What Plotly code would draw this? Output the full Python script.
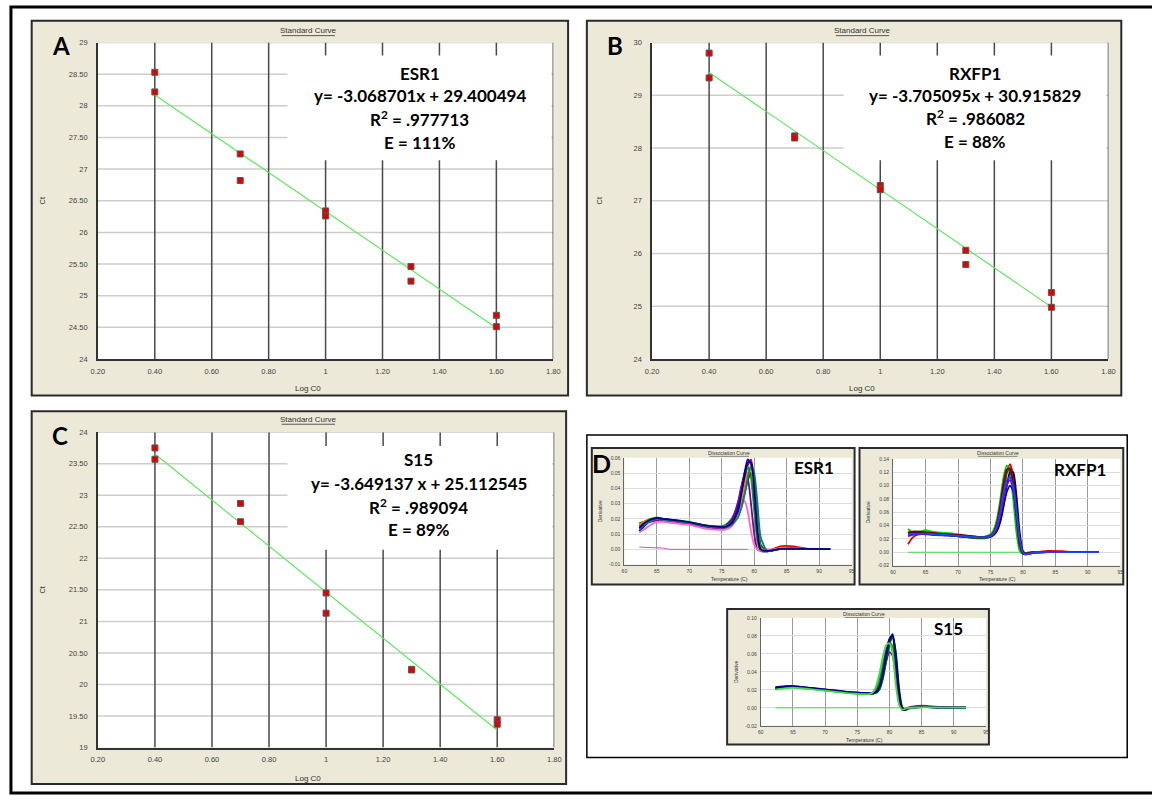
import plotly.graph_objects as go

W, H = 1152, 800

# ===================== DATA =====================
# ---- Standard curves (panels A-C) ----
log_c0 = [0.40, 0.40, 0.70, 0.70, 1.00, 1.00, 1.30, 1.30, 1.60, 1.60]
esr1_ct = [28.53, 28.22, 27.24, 26.82, 26.34, 26.26, 25.46, 25.23, 24.69, 24.51]
rxfp1_ct = [29.80, 29.33, 28.23, 28.19, 27.29, 27.21, 26.06, 25.79, 25.26, 24.98]
s15_ct = [23.75, 23.57, 22.87, 22.58, 21.45, 21.13, 20.24, 20.23, 19.44, 19.37]

fit_range = [0.40, 1.60]
slopes = [-3.068701, -3.705095, -3.649137]
intercepts = [29.400494, 30.915829, 25.112545]

gene_names = ["ESR1", "RXFP1", "S15"]
equation_text = ["y= -3.068701x + 29.400494",
                 "y= -3.705095x + 30.915829",
                 "y= -3.649137 x + 25.112545"]
r2_text = [".977713", ".986082", ".989094"]
eff_text = ["111%", "88%", "89%"]
panel_letters = ["A", "B", "C"]

logc0_ticks = [0.2, 0.4, 0.6, 0.8, 1.0, 1.2, 1.4, 1.6, 1.8]
logc0_ticktext = ["0.20", "0.40", "0.60", "0.80", "1", "1.20", "1.40", "1.60", "1.80"]
esr1_ct_ticks = [24, 24.5, 25, 25.5, 26, 26.5, 27, 27.5, 28, 28.5, 29]
esr1_ct_ticktext = ["24", "24.50", "25", "25.50", "26", "26.50", "27", "27.50", "28", "28.50", "29"]
rxfp1_ct_ticks = [24, 25, 26, 27, 28, 29, 30]
rxfp1_ct_ticktext = ["24", "25", "26", "27", "28", "29", "30"]
s15_ct_ticks = [19, 19.5, 20, 20.5, 21, 21.5, 22, 22.5, 23, 23.5, 24]
s15_ct_ticktext = ["19", "19.50", "20", "20.50", "21", "21.50", "22", "22.50", "23", "23.50", "24"]

# ---- Dissociation curves (panel D) ----
temp_ticks = [60, 65, 70, 75, 80, 85, 90, 95]
temp_ticktext = ["60", "65", "70", "75", "80", "85", "90", "95"]

esr1_temp = [62.3, 63, 64, 65, 66, 68, 70, 72, 74, 75.5, 76.5, 77.5, 78, 78.5, 79, 79.5,
             80, 80.5, 81, 82, 84, 86, 88, 91.7]
esr1_curves = [
    [0.014, 0.016, 0.019, 0.020, 0.0195, 0.018, 0.017, 0.0155, 0.0145, 0.015, 0.018, 0.026, 0.034, 0.045, 0.055, 0.059, 0.045, 0.018, 0.002, -0.001, 0.002, 0.002, 0.0005, 0.0003],
    [0.016, 0.018, 0.020, 0.021, 0.020, 0.019, 0.018, 0.016, 0.015, 0.016, 0.020, 0.030, 0.040, 0.050, 0.054, 0.047, 0.025, 0.005, -0.001, -0.001, 0.0003, 0.0005, 0.0003, 0.0002],
    [0.012, 0.015, 0.019, 0.0205, 0.020, 0.019, 0.0175, 0.016, 0.0145, 0.015, 0.019, 0.028, 0.038, 0.050, 0.059, 0.056, 0.035, 0.010, -0.001, -0.0015, 0.0003, 0.0005, 0.0003, 0.0002],
    [0.017, 0.018, 0.019, 0.019, 0.0185, 0.018, 0.017, 0.015, 0.014, 0.014, 0.016, 0.022, 0.028, 0.036, 0.045, 0.050, 0.042, 0.020, 0.003, -0.001, 0.0003, 0.0004, 0.0003, 0.0002],
    [0.015, 0.017, 0.018, 0.019, 0.0185, 0.0175, 0.0165, 0.015, 0.014, 0.0145, 0.019, 0.031, 0.041, 0.048, 0.046, 0.030, 0.010, 0.000, -0.001, -0.001, 0.0002, 0.0004, 0.0003, 0.0002],
    [0.016, 0.018, 0.0195, 0.020, 0.0195, 0.0185, 0.0175, 0.016, 0.015, 0.015, 0.017, 0.024, 0.032, 0.042, 0.050, 0.052, 0.040, 0.014, 0.001, -0.001, 0.001, 0.001, 0.0003, 0.0002],
    [0.011, 0.013, 0.016, 0.018, 0.018, 0.017, 0.016, 0.014, 0.013, 0.013, 0.015, 0.022, 0.028, 0.032, 0.025, 0.012, 0.003, 0.0, -0.001, 0.0, 0.0002, 0.0003, 0.0002, 0.0002],
    [0.013, 0.016, 0.0185, 0.020, 0.0195, 0.0185, 0.0175, 0.0155, 0.0145, 0.0145, 0.016, 0.021, 0.027, 0.036, 0.047, 0.055, 0.050, 0.030, 0.008, -0.001, 0.0003, 0.0004, 0.0003, 0.0002],
    [0.014, 0.017, 0.0195, 0.0205, 0.020, 0.019, 0.0178, 0.016, 0.015, 0.0148, 0.017, 0.025, 0.036, 0.048, 0.057, 0.057, 0.040, 0.012, 0.0, -0.001, 0.0003, 0.0004, 0.0003, 0.0002],
]
esr1_flat_temp = [62.3, 64, 66, 67, 70, 75, 79]
esr1_flat = [0.0015, 0.0013, 0.0008, 0.0, 0.0, 0.0, 0.0]
esr1_deriv_ticks = [-0.01, 0.0, 0.01, 0.02, 0.03, 0.04, 0.05, 0.06]
esr1_deriv_ticktext = ["-0.01", "0.00", "0.01", "0.02", "0.03", "0.04", "0.05", "0.06"]

rxfp1_temp = [62.3, 63, 64, 65, 66, 68, 70, 72, 73, 74, 75, 75.5, 76, 76.5, 77, 77.5, 78,
              78.5, 79, 79.5, 80, 80.5, 81, 82, 84, 86, 88, 91.7]
rxfp1_curves = [
    [0.012, 0.022, 0.027, 0.028, 0.028, 0.027, 0.025, 0.023, 0.022, 0.022, 0.024, 0.028, 0.038, 0.058, 0.088, 0.118, 0.132, 0.115, 0.065, 0.015, -0.002, -0.003, -0.001, 0.0, 0.002, 0.0015, 0.0005, 0.0003],
    [0.035, 0.030, 0.031, 0.033, 0.031, 0.029, 0.027, 0.024, 0.023, 0.023, 0.027, 0.034, 0.050, 0.078, 0.112, 0.130, 0.118, 0.080, 0.030, 0.002, -0.002, -0.001, 0.0, 0.0, 0.0005, 0.0005, 0.0003, 0.0002],
    [0.030, 0.029, 0.028, 0.027, 0.026, 0.025, 0.024, 0.022, 0.022, 0.022, 0.023, 0.026, 0.033, 0.048, 0.070, 0.090, 0.100, 0.092, 0.058, 0.018, -0.001, -0.003, -0.002, 0.0, 0.0003, 0.0003, 0.0002, 0.0002],
    [0.028, 0.030, 0.030, 0.029, 0.028, 0.026, 0.025, 0.023, 0.022, 0.022, 0.023, 0.026, 0.032, 0.045, 0.068, 0.098, 0.120, 0.120, 0.085, 0.030, 0.002, -0.002, -0.002, 0.0, 0.0003, 0.0003, 0.0002, 0.0002],
    [0.026, 0.027, 0.028, 0.028, 0.027, 0.026, 0.024, 0.022, 0.021, 0.021, 0.024, 0.029, 0.042, 0.064, 0.095, 0.120, 0.124, 0.100, 0.050, 0.010, -0.002, -0.002, -0.001, 0.0, 0.0003, 0.0003, 0.0002, 0.0002],
    [0.024, 0.026, 0.027, 0.028, 0.028, 0.027, 0.026, 0.024, 0.023, 0.023, 0.024, 0.028, 0.037, 0.055, 0.080, 0.100, 0.108, 0.095, 0.055, 0.012, -0.002, -0.003, -0.001, 0.0, 0.0003, 0.0003, 0.0002, 0.0002],
    [0.029, 0.031, 0.031, 0.030, 0.029, 0.027, 0.026, 0.024, 0.023, 0.023, 0.025, 0.030, 0.044, 0.070, 0.102, 0.124, 0.126, 0.104, 0.058, 0.014, -0.001, -0.002, -0.001, 0.0, 0.0004, 0.0004, 0.0002, 0.0002],
    [0.027, 0.028, 0.028, 0.028, 0.027, 0.026, 0.025, 0.023, 0.0225, 0.0225, 0.024, 0.028, 0.040, 0.060, 0.088, 0.108, 0.112, 0.098, 0.062, 0.020, 0.0, -0.003, -0.002, 0.0, 0.0003, 0.0003, 0.0002, 0.0002],
]
rxfp1_flat_temp = [62.3, 80.0]
rxfp1_flat = [0.0, 0.0]
rxfp1_deriv_ticks = [-0.02, 0.0, 0.02, 0.04, 0.06, 0.08, 0.10, 0.12, 0.14]
rxfp1_deriv_ticktext = ["-0.02", "0.00", "0.02", "0.04", "0.06", "0.08", "0.10", "0.12", "0.14"]

s15_temp = [62.3, 63, 64, 65, 66, 68, 70, 72, 74, 76, 77, 77.5, 78, 78.5, 79, 79.5, 80,
            80.5, 81, 81.5, 82, 82.5, 83, 84, 85, 86, 88, 91.9]
s15_curves = [
    [0.022, 0.023, 0.0235, 0.0235, 0.023, 0.0215, 0.020, 0.0185, 0.017, 0.016, 0.016, 0.016, 0.018, 0.025, 0.040, 0.060, 0.077, 0.080, 0.052, 0.015, -0.002, -0.002, 0.0005, 0.002, 0.0025, 0.002, 0.0008, 0.0002],
    [0.021, 0.022, 0.0225, 0.023, 0.0225, 0.021, 0.0195, 0.018, 0.0165, 0.0155, 0.0155, 0.017, 0.022, 0.033, 0.050, 0.065, 0.073, 0.068, 0.035, 0.006, -0.002, -0.001, 0.0, 0.0005, 0.0008, 0.0008, 0.0003, 0.0002],
    [0.023, 0.0235, 0.024, 0.024, 0.0235, 0.022, 0.0205, 0.019, 0.0175, 0.0165, 0.0162, 0.0165, 0.019, 0.026, 0.042, 0.062, 0.076, 0.078, 0.050, 0.012, -0.002, -0.002, 0.0, 0.0008, 0.001, 0.001, 0.0004, 0.0002],
    [0.022, 0.0225, 0.023, 0.023, 0.0225, 0.021, 0.0198, 0.018, 0.0168, 0.0158, 0.0158, 0.016, 0.018, 0.024, 0.036, 0.052, 0.062, 0.058, 0.032, 0.008, -0.002, -0.001, 0.0, 0.0005, 0.0008, 0.0008, 0.0003, 0.0002],
    [0.021, 0.022, 0.023, 0.0232, 0.0228, 0.0213, 0.0198, 0.0183, 0.0168, 0.0158, 0.0158, 0.0158, 0.0168, 0.021, 0.033, 0.052, 0.070, 0.079, 0.062, 0.022, 0.001, -0.002, -0.001, 0.0006, 0.0008, 0.0008, 0.0003, 0.0002],
    [0.0225, 0.023, 0.0238, 0.024, 0.0233, 0.0218, 0.0203, 0.0188, 0.0173, 0.0163, 0.016, 0.0162, 0.0178, 0.024, 0.038, 0.058, 0.075, 0.082, 0.058, 0.018, -0.001, -0.002, 0.0, 0.0006, 0.0008, 0.0008, 0.0003, 0.0002],
    [0.020, 0.021, 0.022, 0.0225, 0.022, 0.0205, 0.019, 0.0175, 0.016, 0.0152, 0.0155, 0.018, 0.026, 0.040, 0.058, 0.070, 0.072, 0.060, 0.025, 0.003, -0.002, -0.001, 0.0, 0.0004, 0.0006, 0.0006, 0.0003, 0.0002],
]
s15_flat_temp = [62.3, 82.5]
s15_flat = [0.0, 0.0]
s15_deriv_ticks = [-0.02, 0.0, 0.02, 0.04, 0.06, 0.08, 0.10]
s15_deriv_ticktext = ["-0.02", "0.00", "0.02", "0.04", "0.06", "0.08", "0.10"]

# ===================== STYLE =====================
esr1_colors = ["#e00000", "#00b000", "#0000e0", "#006400", "#8000a0", "#ff8000", "#ff66cc", "#008080", "#000080"]
rxfp1_colors = ["#e00000", "#00d000", "#0000e0", "#000080", "#006400", "#8000c0", "#800000", "#2040ff"]
s15_colors = ["#e00000", "#00b000", "#0000e0", "#8000a0", "#006400", "#000080", "#40e040"]

BEIGE = "#ece9d8"
TICK_FONT = "Liberation Sans, Arial, sans-serif"
BOLD_FONT = "Lato, Carlito, sans-serif"

fig = go.Figure()
shapes = []
annotations = []
layout = dict(width=W, height=H, autosize=False, margin=dict(l=0, r=0, t=0, b=0),
              paper_bgcolor="white", plot_bgcolor="white", showlegend=False)


def fx(p):
    return p / W


def fy(p):
    return 1 - p / H


def rect(x0, y0, x1, y1, **kw):
    d = dict(type="rect", xref="paper", yref="paper",
             x0=fx(x0), x1=fx(x1), y0=fy(y1), y1=fy(y0), layer="below")
    d.update(kw)
    shapes.append(d)


def hline(x0, x1, y, color, width):
    shapes.append(dict(type="line", xref="paper", yref="paper", x0=fx(x0), x1=fx(x1),
                       y0=fy(y), y1=fy(y), line=dict(color=color, width=width), layer="below"))


def text(px, py, s, size, family=TICK_FONT, color="#333"):
    annotations.append(dict(xref="paper", yref="paper", x=fx(px), y=fy(py), text=s,
                            showarrow=False, xanchor="center",
                            yanchor="middle", font=dict(size=size, family=family, color=color)))


def axes(n, box, xr, yr, xt, xtt, yt, ytt, grid, vgrid, hgrid, gw, tfs, xtl, ytl, lc, lw,
         ytitle, title_size, ytitle_standoff):
    xa = "xaxis" if n == 1 else f"xaxis{n}"
    ya = "yaxis" if n == 1 else f"yaxis{n}"
    xid = "x" if n == 1 else f"x{n}"
    yid = "y" if n == 1 else f"y{n}"
    tfont = dict(size=title_size, color="#333", family=TICK_FONT)
    layout[xa] = dict(domain=[fx(box[0]), fx(box[2])], range=xr, anchor=yid,
                      tickmode="array", tickvals=xt, ticktext=xtt,
                      showgrid=grid, gridcolor=vgrid, gridwidth=gw, zeroline=False,
                      showline=True, linecolor=lc, linewidth=lw, mirror=False,
                      ticks="outside", ticklen=xtl, tickcolor="rgba(0,0,0,0)",
                      tickfont=dict(size=tfs, color="#444", family=TICK_FONT), fixedrange=True)
    layout[ya] = dict(domain=[fy(box[3]), fy(box[1])], range=yr, anchor=xid,
                      tickmode="array", tickvals=yt, ticktext=ytt,
                      showgrid=grid, gridcolor=hgrid, gridwidth=gw, zeroline=False,
                      showline=True, linecolor=lc, linewidth=lw, mirror=False,
                      ticks="outside", ticklen=ytl, tickcolor="rgba(0,0,0,0)",
                      tickfont=dict(size=tfs, color="#444", family=TICK_FONT), fixedrange=True,
                      title=dict(text=ytitle, standoff=ytitle_standoff, font=tfont))
    return xid, yid


# ---------- outer border and panel D box ----------
rect(4, 3, 1180, 798, line=dict(color="black", width=3), fillcolor="rgba(0,0,0,0)")
rect(587, 436, 1134, 762, line=dict(color="black", width=1.5), fillcolor="rgba(0,0,0,0)")

# ---------- Standard curve panels ----------
std_cts = [esr1_ct, rxfp1_ct, s15_ct]
std_yranges = [[24, 29], [24, 30], [19, 24]]
std_yticks = [(esr1_ct_ticks, esr1_ct_ticktext), (rxfp1_ct_ticks, rxfp1_ct_ticktext),
              (s15_ct_ticks, s15_ct_ticktext)]
std_frames = [(25, 17, 568, 396), (587, 17, 1128, 396), (25, 412, 566, 789)]
std_plots = [(92, 39, 553, 359), (653, 39, 1115, 359), (92, 433, 554, 752)]
std_boxes = [(284, 52, 551, 158), (847, 52, 1113, 158), (284, 447, 552, 552)]
std_title_pos = [(305, 27), (866, 27), (305, 420)]
std_xlabel_pos = [(305, 389), (866, 389), (305, 783)]
std_ct_standoff = [22, 30, 22]
std_text_x = [418, 980, 417]
std_text_y = [[70, 93, 116, 140], [70, 93, 115, 139], [461, 485, 508, 531]]
std_letter_pos = [(55, 42), (615, 42), (54, 436)]
XR = [0.2, 1.8]

for i in range(3):
    fr = std_frames[i]
    pb = std_plots[i]
    yr = std_yranges[i]
    rect(*fr, fillcolor=BEIGE, line=dict(color="#2a2a2a", width=2))
    rect(*pb, fillcolor="white", line=dict(width=0))
    xid, yid = axes(i + 1, pb, XR, yr, logc0_ticks, logc0_ticktext,
                    std_yticks[i][0], std_yticks[i][1], False, None, None, 1, 7.5, 4, 7,
                    "#333", 1.5, "Ct", 7.5, std_ct_standoff[i])

    # label box (where the grid is interrupted), converted from pixels to data units
    bx = std_boxes[i]

    def dx(p, pb=pb):
        return XR[0] + (p - pb[0]) / (pb[2] - pb[0]) * (XR[1] - XR[0])

    def dy(p, pb=pb, yr=yr):
        return yr[1] - (p - pb[1]) / (pb[3] - pb[1]) * (yr[1] - yr[0])

    bx0, bx1, by_top, by_bot = dx(bx[0]), dx(bx[2]), dy(bx[1]), dy(bx[3])

    # horizontal grid (light) interrupted by the label box
    hx, hy = [], []
    for t in std_yticks[i][0][1:]:
        if by_bot <= t <= by_top:
            hx += [XR[0], bx0, None, bx1, XR[1], None]
            hy += [t, t, None, t, t, None]
        else:
            hx += [XR[0], XR[1], None]
            hy += [t, t, None]
    fig.add_trace(go.Scatter(x=hx, y=hy, mode="lines", xaxis=xid, yaxis=yid,
                             line=dict(color="#cdcdcd", width=1.5), hoverinfo="skip"))
    # vertical grid (dark) interrupted by the label box
    vx, vy = [], []
    for t in logc0_ticks[1:]:
        if bx0 <= t <= bx1:
            vx += [t, t, None, t, t, None]
            vy += [yr[1], by_top, None, by_bot, yr[0], None]
        else:
            vx += [t, t, None]
            vy += [yr[0], yr[1], None]
    fig.add_trace(go.Scatter(x=vx, y=vy, mode="lines", xaxis=xid, yaxis=yid,
                             line=dict(color="#4a4a4a", width=1.5), hoverinfo="skip"))

    # regression line
    fit_y = [slopes[i] * v + intercepts[i] for v in fit_range]
    fig.add_trace(go.Scatter(x=fit_range, y=fit_y, mode="lines", xaxis=xid, yaxis=yid,
                             line=dict(color="#5fe85f", width=1.2), hoverinfo="skip"))
    fig.add_trace(go.Scatter(x=log_c0, y=std_cts[i], mode="markers", xaxis=xid, yaxis=yid,
                             marker=dict(symbol="square", size=6, color="#e00000",
                                         line=dict(color="#5a5a5a", width=1))))
    tp = std_title_pos[i]
    text(tp[0], tp[1], "Standard Curve", 8)
    hline(tp[0] - 27, tp[0] + 27, tp[1] + 5, "#333", 0.8)
    xp = std_xlabel_pos[i]
    text(xp[0], xp[1], "Log C0", 8)
    ty = std_text_y[i]
    tx = std_text_x[i]
    text(tx, ty[0], f"<b>{gene_names[i]}</b>", 17, family=BOLD_FONT, color="black")
    text(tx, ty[1], f"<b>{equation_text[i]}</b>", 17, family=BOLD_FONT, color="black")
    text(tx, ty[2], f"<b>R<sup>2</sup> = {r2_text[i]}</b>", 17, family=BOLD_FONT, color="black")
    text(tx, ty[3], f"<b>E = {eff_text[i]}</b>", 17, family=BOLD_FONT, color="black")
    lp = std_letter_pos[i]
    text(lp[0], lp[1], f"<b>{panel_letters[i]}</b>", 24, family=BOLD_FONT, color="black")

# ---------- Dissociation curve panels ----------
d_temps = [esr1_temp, rxfp1_temp, s15_temp]
d_curves = [esr1_curves, rxfp1_curves, s15_curves]
d_colors = [esr1_colors, rxfp1_colors, s15_colors]
d_flat = [(esr1_flat_temp, esr1_flat, "#cc55cc"), (rxfp1_flat_temp, rxfp1_flat, "#44dd44"),
          (s15_flat_temp, s15_flat, "#44dd44")]
d_yranges = [[-0.01, 0.06], [-0.02, 0.14], [-0.02, 0.10]]
d_yticks = [(esr1_deriv_ticks, esr1_deriv_ticktext), (rxfp1_deriv_ticks, rxfp1_deriv_ticktext),
            (s15_deriv_ticks, s15_deriv_ticktext)]
d_frames = [(592, 449, 858, 587), (863, 449, 1130, 587), (729, 612, 994, 749)]
d_plots = [(625, 459, 855, 567), (897, 460, 1127, 568), (763, 621, 991, 730)]
d_label_pos = [(817, 469), (1086, 471), (953, 632)]

for j in range(3):
    n = j + 4
    fr = d_frames[j]
    pb = d_plots[j]
    rect(*fr, fillcolor=BEIGE, line=dict(color="#2a2a2a", width=2))
    rect(*pb, fillcolor="white", line=dict(width=0))
    xid, yid = axes(n, pb, [60, 95], d_yranges[j], temp_ticks, temp_ticktext,
                    d_yticks[j][0], d_yticks[j][1], True, "#9a9a9a", "#dcdcdc", 1, 5, 1, 2,
                    "#666", 1, "Derivative", 5, 6)
    ft, fv, fc = d_flat[j]
    fig.add_trace(go.Scatter(x=ft, y=fv, mode="lines", xaxis=xid, yaxis=yid,
                             line=dict(color=fc, width=1), hoverinfo="skip"))
    for k, curve in enumerate(d_curves[j]):
        fig.add_trace(go.Scatter(x=d_temps[j], y=curve, mode="lines", xaxis=xid, yaxis=yid,
                                 line=dict(color=d_colors[j][k], width=1.8, shape="spline",
                                           smoothing=0.6),
                                 hoverinfo="skip"))
    cx = (pb[0] + pb[2]) / 2 - 9
    text(cx, fr[1] + 5, "Dissociation Curve", 5)
    hline(cx - 20, cx + 20, fr[1] + 8.5, "#444", 0.6)
    text(cx, fr[3] - 5, "Temperature (C)", 5)
    lp = d_label_pos[j]
    text(lp[0], lp[1], f"<b>{gene_names[j]}</b>", 17, family=BOLD_FONT, color="black")

text(602, 464, "<b>D</b>", 25, family=BOLD_FONT, color="black")

layout["shapes"] = shapes
layout["annotations"] = annotations
fig.update_layout(**layout)
fig.write_html("out.html", config={"displayModeBar": False},
               post_script="document.body.style.margin='0';")
